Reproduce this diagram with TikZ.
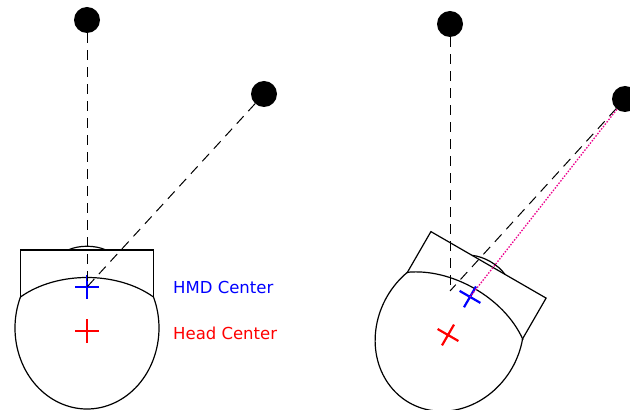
\documentclass[tikz,border=0pt]{standalone}
\usepackage{fontspec}
\setmainfont{DejaVu Sans}
\begin{document}
\begin{tikzpicture}[x=1pt,y=1pt,
  dot/.style={circle,fill=black,inner sep=0pt,minimum size=26pt},
  sight/.style={dash pattern=on 10pt off 7pt,line width=1pt},
  outline/.style={line width=1.2pt},
  crossmark/.style={line width=2.2pt},
  lbl/.style={anchor=base west,inner sep=0pt,font=\fontsize{16.5}{19}\selectfont}]
  \useasboundingbox (0,0) rectangle (630,410);
  % the two heads, upright and turned
  \foreach \cx/\cy/\ang/\nm in {87/79/0/l,448/75/-30/r}{
    \begin{scope}[shift={(\cx,\cy)},rotate=\ang]
      \draw[outline] (66.5,34) arc[start angle=22.5,end angle=-202.5,x radius=72,y radius=81]
        .. controls (-30,60) and (30,60) .. cycle;
      \draw[outline] (-66.5,33) -- (-66.5,81) -- (66.5,81) -- (66.5,33);
      \draw[outline] (-19,81) .. controls (-8,86) and (8,86) .. (19,81);
      \coordinate (hmd-\nm) at (0,44);
      \draw[blue,crossmark] (-12,44) -- (12,44) (0,32) -- (0,56);
      \draw[red,crossmark] (-12,0) -- (12,0) (0,-12) -- (0,12);
    \end{scope}}
  % targets
  \node[dot] (top-l) at (87,390) {};
  \node[dot] (side-l) at (264,316) {};
  \node[dot] (top-r) at (450,386) {};
  \node[dot] (side-r) at (625,311) {};
  \coordinate (ref-r) at (450,119);
  \draw[sight] (top-l) -- (hmd-l);
  \draw[sight] (side-l) -- (hmd-l);
  \draw[sight] (top-r) -- (ref-r);
  \draw[sight] (side-r) -- (ref-r);
  \draw[magenta,dash pattern=on 1.5pt off 1.5pt,line width=1.3pt] (side-r) -- (hmd-r);
  \node[lbl,blue] (hmd-label) at (173,116) {HMD Center};
  \node[lbl,red] (head-label) at (173,70) {Head Center};
\end{tikzpicture}
\end{document}
